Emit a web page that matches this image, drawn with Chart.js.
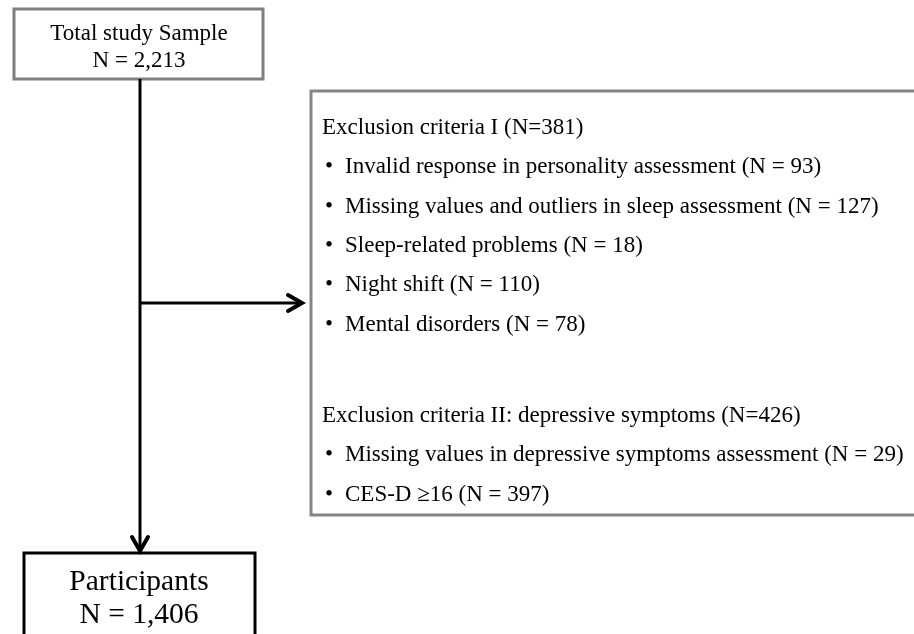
<!DOCTYPE html>
<html>
<head>
<meta charset="utf-8">
<script src="https://cdn.jsdelivr.net/npm/chart.js@4.4.1/dist/chart.umd.min.js"></script>
<style>
  html, body { margin: 0; padding: 0; background: #fff; }
  #wrap { width: 914px; height: 634px; }
</style>
</head>
<body>
<div id="wrap"><canvas id="flowChart" width="914" height="634"></canvas></div>
<script>
// flow stages (top and bottom boxes)
const stageLabels = ['Total study Sample', 'Participants'];
const stageCounts = [2213, 1406];

// exclusion groups
const groupTitles = ['Exclusion criteria I', 'Exclusion criteria II: depressive symptoms'];
const groupCounts = [381, 426];

// individual exclusion reasons
const reasonLabels = [
  'Invalid response in personality assessment',
  'Missing values and outliers in sleep assessment',
  'Sleep-related problems',
  'Night shift',
  'Mental disorders',
  'Missing values in depressive symptoms assessment',
  'CES-D \u226516'
];
const reasonCounts = [93, 127, 18, 110, 78, 29, 397];
const reasonGroup = [0, 0, 0, 0, 0, 1, 1];

// layout in scale units (x: 0-914, y: 0-634 top-down)
const layout = {
  topBox: { x0: 14, y0: 9, x1: 263, y1: 79, color: '#7f7f7f' },
  bottomBox: { x0: 24, y0: 553, x1: 255, y1: 650, color: '#000' },
  sideBox: { x0: 311, y0: 91, x1: 930, y1: 515, color: '#858585' },
  trunkX: 140,
  branchY: 303,
  branchEnd: 302,
  trunkEnd: 551,
  textX: 322,
  bulletX: 325,
  bulletTextX: 345,
  groupY: [134, 422],
  lineGap: 39.3
};

const fmt = (n) => n.toLocaleString('en-US');

const flowPlugin = {
  id: 'flow',
  afterDraw(chart) {
    const { ctx, scales } = chart;
    const px = (v) => scales.x.getPixelForValue(v);
    const py = (v) => scales.y.getPixelForValue(v);
    const serif = '"Liberation Serif", "Times New Roman", serif';

    ctx.save();

    function box(b) {
      ctx.strokeStyle = b.color;
      ctx.lineWidth = 3;
      ctx.strokeRect(px(b.x0), py(b.y0), px(b.x1) - px(b.x0), py(b.y1) - py(b.y0));
    }
    box(layout.sideBox);
    box(layout.topBox);
    box(layout.bottomBox);

    // connector lines
    ctx.strokeStyle = '#000';
    ctx.lineWidth = 3;
    ctx.lineCap = 'butt';
    ctx.beginPath();
    ctx.moveTo(px(layout.trunkX), py(layout.topBox.y1));
    ctx.lineTo(px(layout.trunkX), py(layout.trunkEnd));
    ctx.moveTo(px(layout.trunkX), py(layout.branchY));
    ctx.lineTo(px(layout.branchEnd), py(layout.branchY));
    ctx.stroke();

    // arrow heads
    ctx.lineCap = 'round';
    ctx.lineWidth = 4;
    ctx.beginPath();
    ctx.moveTo(px(layout.branchEnd - 14), py(layout.branchY - 8));
    ctx.lineTo(px(layout.branchEnd), py(layout.branchY));
    ctx.lineTo(px(layout.branchEnd - 14), py(layout.branchY + 8));
    ctx.moveTo(px(layout.trunkX - 8), py(layout.trunkEnd - 14));
    ctx.lineTo(px(layout.trunkX), py(layout.trunkEnd));
    ctx.lineTo(px(layout.trunkX + 8), py(layout.trunkEnd - 14));
    ctx.stroke();

    // stage texts
    ctx.fillStyle = '#000';
    ctx.textAlign = 'center';
    ctx.textBaseline = 'alphabetic';
    ctx.font = '23px ' + serif;
    ctx.fillText(stageLabels[0], px(139), py(40));
    ctx.fillText('N = ' + fmt(stageCounts[0]), px(139), py(67));
    ctx.font = '29.5px ' + serif;
    ctx.fillText(stageLabels[1], px(139), py(590));
    ctx.fillText('N = ' + fmt(stageCounts[1]), px(139), py(623));

    // exclusion groups
    ctx.textAlign = 'left';
    ctx.font = '23px ' + serif;
    groupTitles.forEach((title, g) => {
      const y0 = layout.groupY[g];
      ctx.fillText(title + ' (N=' + fmt(groupCounts[g]) + ')', px(layout.textX), py(y0));
      let row = 1;
      reasonLabels.forEach((label, i) => {
        if (reasonGroup[i] !== g) return;
        const y = y0 + row * layout.lineGap;
        ctx.fillText('\u2022', px(layout.bulletX), py(y));
        ctx.fillText(label + ' (N = ' + fmt(reasonCounts[i]) + ')', px(layout.bulletTextX), py(y));
        row++;
      });
    });

    ctx.restore();
  }
};

new Chart(document.getElementById('flowChart'), {
  type: 'scatter',
  data: { datasets: [{ data: [] }] },
  options: {
    responsive: false,
    animation: false,
    layout: { padding: 0 },
    scales: {
      x: { type: 'linear', min: 0, max: 914, display: false },
      y: { type: 'linear', min: 0, max: 634, reverse: true, display: false }
    },
    plugins: {
      legend: { display: false },
      tooltip: { enabled: false }
    }
  },
  plugins: [flowPlugin]
});
</script>
</body>
</html>
